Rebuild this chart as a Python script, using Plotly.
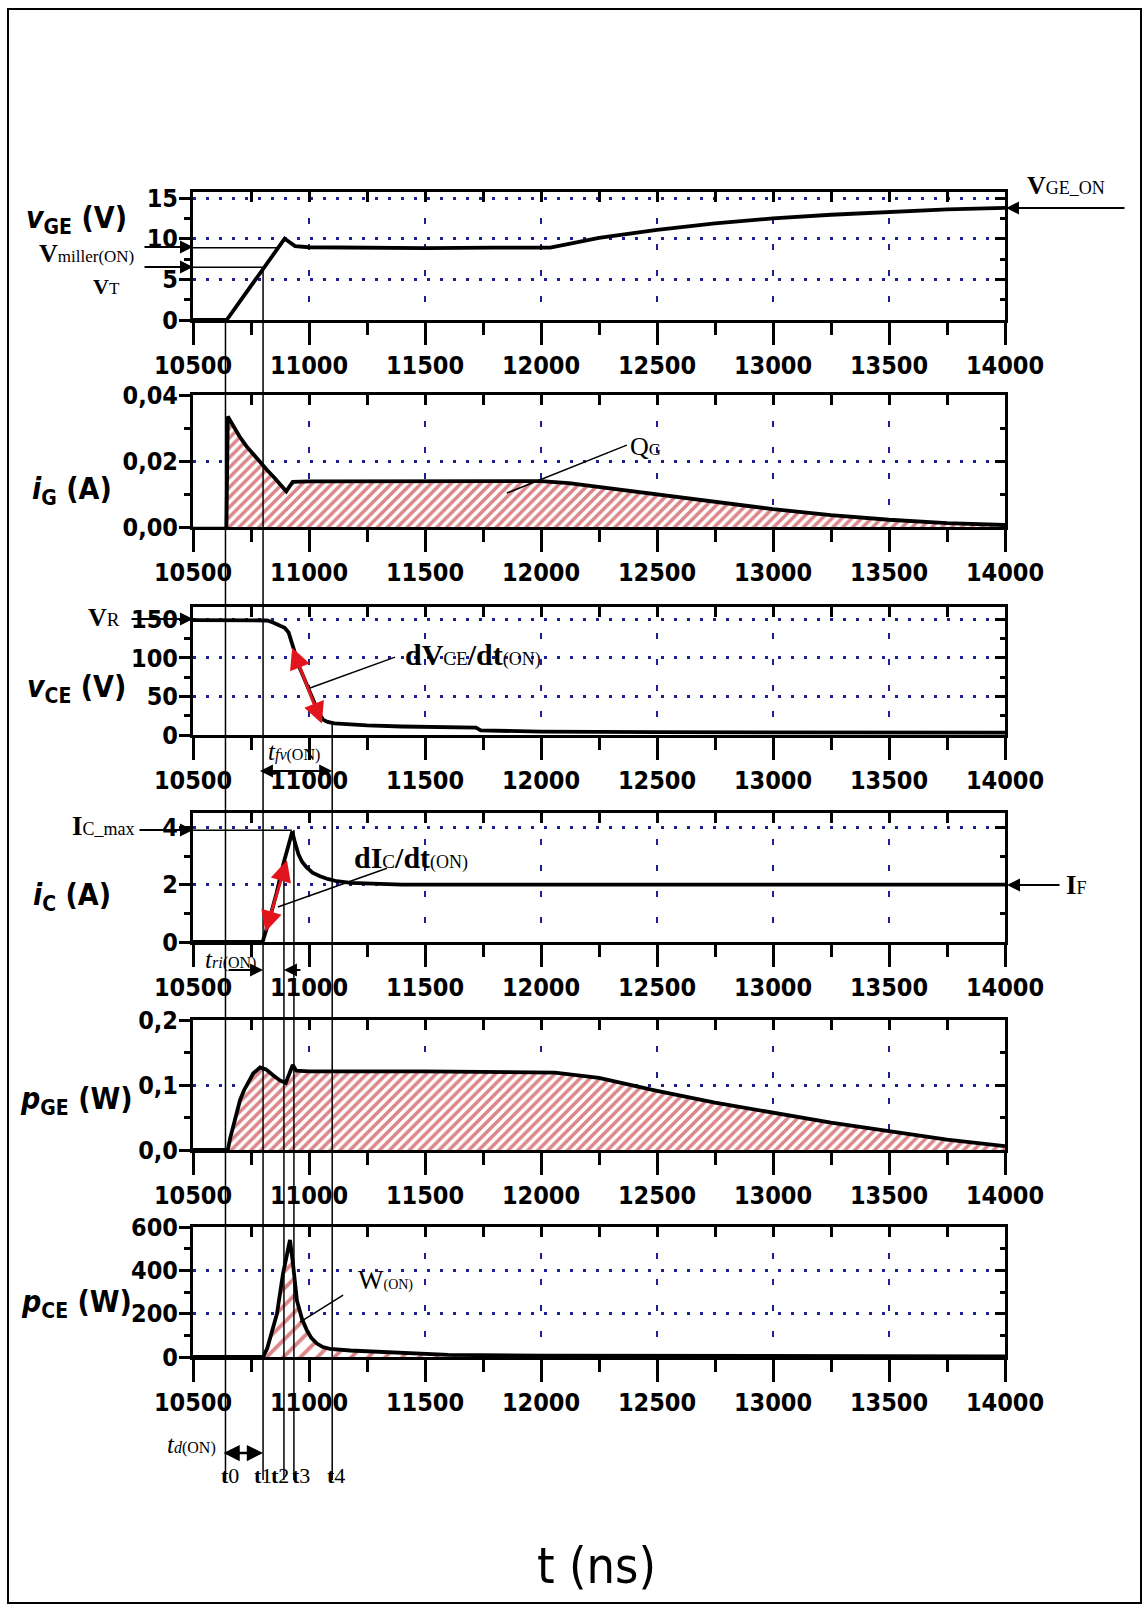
import plotly.graph_objects as go

FIG_W, FIG_H = 1148, 1611

# ---------------- switching instants (ns) ----------------
t_marks = [10640, 10802, 10892, 10935, 11100]
t_mark_names = ["0", "1", "2", "3", "4"]

# ---------------- waveforms (time in ns) ----------------
# gate-emitter voltage v_GE (V)
t_vge = [10500, 10645, 10700, 10760, 10820, 10865, 10895, 10915, 10940, 11000, 11200, 11500,
         11800, 12040, 12250, 12500, 12750, 13000, 13250, 13500, 13750, 14000]
v_ge = [0, 0, 2.2, 4.6, 7.0, 8.8, 10.0, 9.6, 9.1, 8.95, 8.9, 8.85,
        8.9, 8.9, 10.1, 11.1, 11.9, 12.5, 12.95, 13.3, 13.6, 13.8]

# gate current i_G (A)
t_ig = [10500, 10644, 10650, 10670, 10700, 10730, 10760, 10790, 10820, 10850, 10880, 10902,
        10915, 10930, 11000, 11200, 11500, 11800, 12000, 12120, 12250, 12400, 12500, 12750,
        13000, 13250, 13500, 13750, 14000]
i_g = [-0.0005, -0.0005, 0.0335, 0.031, 0.0275, 0.0245, 0.022, 0.0195, 0.0172, 0.015, 0.0128, 0.0108,
       0.0122, 0.0137, 0.0138, 0.0138, 0.0139, 0.0139, 0.0139, 0.0133, 0.0121, 0.0107, 0.0099, 0.0076,
       0.0054, 0.0036, 0.0022, 0.0012, 0.0006]

# collector-emitter voltage v_CE (V)
t_vce = [10500, 10820, 10845, 10870, 10895, 10912, 10925, 10940, 10960, 10980, 11000, 11020,
         11040, 11060, 11080, 11110, 11150, 11250, 11400, 11550, 11720, 11740, 11900, 12000,
         12500, 13000, 14000]
v_ce = [149, 148.5, 146, 142, 139, 133, 122, 106, 87, 72, 58, 43,
        30, 20, 17, 15, 14, 12.5, 11, 10, 9.5, 6, 4.8, 4.3,
        3.6, 3.2, 3]

# collector current i_C (A)
t_ic = [10500, 10800, 10830, 10860, 10892, 10912, 10928, 10940, 10955, 10970, 10990, 11015,
        11045, 11080, 11120, 11180, 11260, 11400, 12000, 14000]
i_c = [0, 0, 0.8, 1.7, 2.8, 3.45, 3.85, 3.45, 3.05, 2.8, 2.6, 2.42,
       2.3, 2.2, 2.12, 2.06, 2.03, 2.0, 2.0, 2.0]

# gate power p_GE (W)
t_pge = [10500, 10650, 10660, 10672, 10688, 10703, 10720, 10740, 10760, 10789, 10815, 10845,
         10875, 10900, 10915, 10930, 10945, 11000, 11500, 12000, 12060, 12250, 12500, 12750,
         13000, 13250, 13500, 13750, 14000]
p_ge = [0, 0, 0.018, 0.036, 0.058, 0.077, 0.092, 0.106, 0.118, 0.127, 0.124, 0.115,
        0.107, 0.103, 0.116, 0.131, 0.122, 0.121, 0.121, 0.120, 0.119, 0.111, 0.091, 0.073,
        0.057, 0.042, 0.029, 0.016, 0.006]

# collector-emitter power p_CE (W)
t_pce = [10500, 10802, 10820, 10840, 10862, 10888, 10905, 10918, 10930, 10948, 10970, 10991,
         11010, 11034, 11060, 11090, 11177, 11300, 11392, 11600, 12000, 13000, 14000]
p_ce = [0, 0, 40, 110, 200, 385, 470, 540, 440, 260, 175, 123,
        88, 62, 46, 38, 30, 24, 18, 10, 6, 4, 3]

# ---------------- axes ----------------
x_ticks = [10500, 11000, 11500, 12000, 12500, 13000, 13500, 14000]
x_labels = ["10500", "11000", "11500", "12000", "12500", "13000", "13500", "14000"]
x_minor = [10750, 11250, 11750, 12250, 12750, 13250, 13750]
x_top = [10750, 11000, 11250, 11500, 11750, 12000, 12250, 12500, 12750, 13000, 13250, 13500, 13750]

y_ranges = [[0, 15.75], [0, 0.04], [0, 166], [0, 4.5], [0, 0.2], [0, 600]]
y_ticks = [[0, 5, 10, 15], [0, 0.02, 0.04], [0, 50, 100, 150], [0, 2, 4], [0, 0.1, 0.2], [0, 200, 400, 600]]
y_labels = [["0", "5", "10", "15"], ["0,00", "0,02", "0,04"], ["0", "50", "100", "150"],
            ["0", "2", "4"], ["0,0", "0,1", "0,2"], ["0", "200", "400", "600"]]
y_minor = [[2.5, 7.5, 12.5], [0.01, 0.03], [25, 75, 125], [1, 3], [0.05, 0.15], [100, 300, 500]]

# panel boxes in pixels (top, bottom)
panel_px = [(192, 320), (395, 527), (607, 735), (813, 942), (1020, 1150), (1227, 1357)]
X_LEFT, X_RIGHT = 193, 1005

NARROW = "Liberation Sans Narrow, DejaVu Sans Condensed, Arial Narrow, sans-serif"
SERIF = "Liberation Serif, Times New Roman, serif"
GRID = "#1f1f8f"
RED = "#e3151c"
HATCH = "#b80d14"


def px(x):
    return x / FIG_W


def py(y):
    return 1 - y / FIG_H


def ax_id(kind, n):
    return kind if n == 1 else f"{kind}{n}"


fig = go.Figure()

series = [
    (t_vge, v_ge, None),
    (t_ig, i_g, dict(size=7, solidity=0.5)),
    (t_vce, v_ce, None),
    (t_ic, i_c, None),
    (t_pge, p_ge, dict(size=7, solidity=0.5)),
    (t_pce, p_ce, dict(size=12, solidity=0.32)),
]

for i, (tt, yy, pat) in enumerate(series):
    n = i + 1
    kw = dict(x=tt, y=yy, mode="lines", line=dict(color="black", width=3.8),
              xaxis=ax_id("x", n), yaxis=ax_id("y", n), showlegend=False, hoverinfo="skip")
    if pat is not None:
        kw.update(fill="tozeroy", fillcolor="rgba(0,0,0,0)",
                  fillpattern=dict(shape="/", fgcolor=HATCH, bgcolor="white",
                                   size=pat["size"], solidity=pat["solidity"]))
    fig.add_trace(go.Scatter(**kw))
    # empty traces keep the inner-tick overlay axes alive
    fig.add_trace(go.Scatter(x=[None], y=[None], xaxis=ax_id("x", n + 6), yaxis=ax_id("y", n),
                             showlegend=False, hoverinfo="skip"))
    fig.add_trace(go.Scatter(x=[None], y=[None], xaxis=ax_id("x", n), yaxis=ax_id("y", n + 6),
                             showlegend=False, hoverinfo="skip"))

layout_axes = {}
tick_font = dict(family=NARROW, size=25, color="black", weight="bold")
for i in range(6):
    n = i + 1
    top, bot = panel_px[i]
    xdom = [px(X_LEFT), px(X_RIGHT)]
    ydom = [py(bot), py(top)]
    layout_axes[ax_id("xaxis", n)] = dict(
        domain=xdom, range=[10500, 14000], anchor=ax_id("y", n), automargin=False,
        tickmode="array", tickvals=x_ticks, ticktext=x_labels,
        ticks="outside", ticklen=22, tickwidth=2.5, tickcolor="black",
        showline=True, linecolor="black", linewidth=3, mirror=True,
        showgrid=True, gridcolor=GRID, gridwidth=2, griddash="6px,20px",
        zeroline=False, tickfont=tick_font, ticklabelstandoff=-1,
        minor=dict(tickvals=x_minor, ticks="outside", ticklen=12, tickwidth=2.5,
                   tickcolor="black", showgrid=False),
        fixedrange=True)
    layout_axes[ax_id("yaxis", n)] = dict(
        domain=ydom, range=y_ranges[i], anchor=ax_id("x", n), automargin=False,
        tickmode="array", tickvals=y_ticks[i], ticktext=y_labels[i],
        ticks="outside", ticklen=11, tickwidth=2.5, tickcolor="black",
        showline=True, linecolor="black", linewidth=3, mirror=True,
        showgrid=True, gridcolor=GRID, gridwidth=2.5, griddash="3px,10px",
        zeroline=False, tickfont=tick_font, ticklabelstandoff=-4,
        minor=dict(tickvals=y_minor[i], ticks="outside", ticklen=6, tickwidth=2.5,
                   tickcolor="black", showgrid=False),
        fixedrange=True)
    # inward ticks along the top and right edges
    layout_axes[ax_id("xaxis", n + 6)] = dict(
        overlaying=ax_id("x", n), anchor=ax_id("y", n), side="top", range=[10500, 14000],
        automargin=False,
        tickmode="array", tickvals=x_top, ticks="inside", ticklen=10, tickwidth=2.5,
        tickcolor="black", showticklabels=False, showgrid=False, showline=False,
        zeroline=False, fixedrange=True)
    layout_axes[ax_id("yaxis", n + 6)] = dict(
        overlaying=ax_id("y", n), anchor=ax_id("x", n), side="right", range=y_ranges[i],
        automargin=False,
        tickmode="array", tickvals=y_ticks[i], ticks="inside", ticklen=10, tickwidth=2.5,
        tickcolor="black", showticklabels=False, showgrid=False, showline=False,
        zeroline=False, fixedrange=True,
        minor=dict(tickvals=y_minor[i], ticks="inside", ticklen=5, tickwidth=2.5,
                   tickcolor="black", showgrid=False))

shapes = []
annotations = []


def txt(x, y, text, size, xanchor="center", family=SERIF, yanchor="middle"):
    annotations.append(dict(xref="paper", yref="paper", x=px(x), y=py(y), text=text,
                            showarrow=False, xanchor=xanchor, yanchor=yanchor,
                            font=dict(family=family, size=size, color="black")))


def parrow(x_tip, y_tip, x_tail, y_tail, both=False, width=2, color="black", size=1.3):
    annotations.append(dict(xref="paper", yref="paper", x=px(x_tip), y=py(y_tip),
                            axref="pixel", ayref="pixel", ax=x_tail - x_tip, ay=y_tail - y_tip,
                            text="", showarrow=True, arrowhead=2, arrowsize=size,
                            arrowwidth=width, arrowcolor=color,
                            arrowside="end+start" if both else "end"))


def darrow(n, x_tip, y_tip, x_tail, y_tail, both=False, width=3, color=RED, size=1.4):
    annotations.append(dict(xref=ax_id("x", n), yref=ax_id("y", n), x=x_tip, y=y_tip,
                            axref=ax_id("x", n), ayref=ax_id("y", n), ax=x_tail, ay=y_tail,
                            text="", showarrow=True, arrowhead=2, arrowsize=size,
                            arrowwidth=width, arrowcolor=color,
                            arrowside="end+start" if both else "end"))


def tspan_arrow(x_tip, x_tail, y_pix, both=False, width=2):
    # horizontal arrow between two instants on the time axis
    annotations.append(dict(xref="x", yref="paper", x=x_tip, y=py(y_pix),
                            axref="x", ayref="pixel", ax=x_tail, ay=0,
                            text="", showarrow=True, arrowhead=2, arrowsize=1.3,
                            arrowwidth=width, arrowcolor="black",
                            arrowside="end+start" if both else "end"))


def dline(n, x0, y0, x1, y1, width=1.5):
    shapes.append(dict(type="line", xref=ax_id("x", n), yref=ax_id("y", n),
                       x0=x0, y0=y0, x1=x1, y1=y1, line=dict(color="black", width=width)))


# vertical marker lines t0..t4
t_line_top = [320, 267, 860, 830, 723]
for tm, ytop in zip(t_marks, t_line_top):
    shapes.append(dict(type="line", xref="x", yref="paper", x0=tm, x1=tm,
                       y0=py(ytop), y1=py(1480), line=dict(color="black", width=1.5)))

# marker names below the bottom panel
t_label_shift = [5, 0, -4, 7, 4]
for tm, name, sh in zip(t_marks, t_mark_names, t_label_shift):
    annotations.append(dict(xref="x", yref="paper", x=tm, y=py(1490), xshift=sh,
                            text=f"<b>t</b>{name}", showarrow=False,
                            font=dict(family=SERIF, size=22, color="black")))

# axis titles
TITLE_SIZE = 30
txt(76, 220, "<b><i>v</i><sub>GE</sub> (V)</b>", TITLE_SIZE, family=NARROW)
txt(72, 490, "<b><i>i</i><sub>G</sub> (A)</b>", TITLE_SIZE, family=NARROW)
txt(76, 688, "<b><i>v</i><sub>CE</sub> (V)</b>", TITLE_SIZE, family=NARROW)
txt(72, 896, "<b><i>i</i><sub>C</sub> (A)</b>", TITLE_SIZE, family=NARROW)
txt(76, 1100, "<b><i>p</i><sub>GE</sub> (W)</b>", TITLE_SIZE, family=NARROW)
txt(76, 1303, "<b><i>p</i><sub>CE</sub> (W)</b>", TITLE_SIZE, family=NARROW)
txt(596, 1566, "t (ns)", 50, family=NARROW)

# gate voltage levels
txt(136, 254, "<b>V</b><span style='font-size:17px'>miller(ON)</span>", 26, xanchor="right")
txt(122, 287, "<b>V</b><span style='font-size:17px'>T</span>", 22, xanchor="right")
parrow(193, 247, 143, 247)
parrow(193, 267, 143, 267)
dline(1, 10500, 8.9, 10862, 8.9)
dline(1, 10500, 6.5, t_marks[1], 6.5)
txt(1025, 185, "<b>V</b><span style='font-size:18px'>GE_ON</span>", 26, xanchor="left")
parrow(1006, 208, 1126, 208)

# gate charge
txt(628, 446, "Q<span style='font-size:17px'>G</span>", 26, xanchor="left")
dline(2, 12370, 0.0248, 11853, 0.0103)

# collector voltage
txt(122, 618, "<b>V</b><span style='font-size:19px'>R</span>", 26, xanchor="right")
parrow(193, 619, 130, 619)
txt(403, 655, "<b>dV</b><span style='font-size:19px'>CE</span><b>/dt</b>"
              "<span style='font-size:18px'>(ON)</span>", 30, xanchor="left")
dline(3, 11371, 101, 11004, 61)
darrow(3, 11055, 15, 10925, 115, both=True)
txt(266, 752, "<i>t</i><span style='font-size:16px'><i>fv</i>(ON)</span>", 25, xanchor="left")
tspan_arrow(t_marks[4], t_marks[1] - 20, 771, both=True)

# collector current
txt(137, 826, "<b>I</b><span style='font-size:18px'>C_max</span>", 27, xanchor="right")
parrow(193, 830, 138, 830)
dline(4, 10500, 3.9, 10926, 3.9)
txt(352, 857, "<b>dI</b><span style='font-size:19px'>C</span><b>/dt</b>"
              "<span style='font-size:18px'>(ON)</span>", 30, xanchor="left")
dline(4, 11336, 2.57, 10866, 1.22)
darrow(4, 10905, 2.85, 10810, 0.3, both=True)
txt(1064, 885, "<b>I</b><span style='font-size:18px'>F</span>", 27, xanchor="left")
parrow(1007, 885, 1061, 885)
txt(203, 959, "<i>t</i><span style='font-size:16px'><i>ri</i>(ON)</span>", 25, xanchor="left")

# rise-time markers
annotations.append(dict(xref="x", yref="paper", x=t_marks[1], y=py(970), axref="pixel", ayref="pixel",
                        ax=-36, ay=0, text="", showarrow=True, arrowhead=2, arrowsize=1.3,
                        arrowwidth=2, arrowcolor="black"))
annotations.append(dict(xref="x", yref="paper", x=t_marks[2], y=py(970), axref="pixel", ayref="pixel",
                        ax=18, ay=0, text="", showarrow=True, arrowhead=2, arrowsize=1.3,
                        arrowwidth=2, arrowcolor="black"))

# switching energy
txt(356, 1280, "W<span style='font-size:14px'>(ON)</span>", 27, xanchor="left")
dline(6, 11147, 286, 10961, 161)

# turn-on delay
txt(218, 1444, "<i>t</i><span style='font-size:16px'><i>d</i>(ON)</span>", 25, xanchor="right")
tspan_arrow(t_marks[1], t_marks[0] - 15, 1453, both=True, width=2.5)

# outer frame
shapes.append(dict(type="rect", xref="paper", yref="paper", x0=px(8), x1=px(1141),
                   y0=py(1603), y1=py(9), line=dict(color="black", width=2)))

fig.update_layout(
    width=FIG_W, height=FIG_H,
    margin=dict(l=0, r=0, t=0, b=0, pad=0, autoexpand=False),
    paper_bgcolor="white", plot_bgcolor="white",
    showlegend=False,
    shapes=shapes, annotations=annotations,
    **layout_axes,
)

fig.write_html("out.html")
